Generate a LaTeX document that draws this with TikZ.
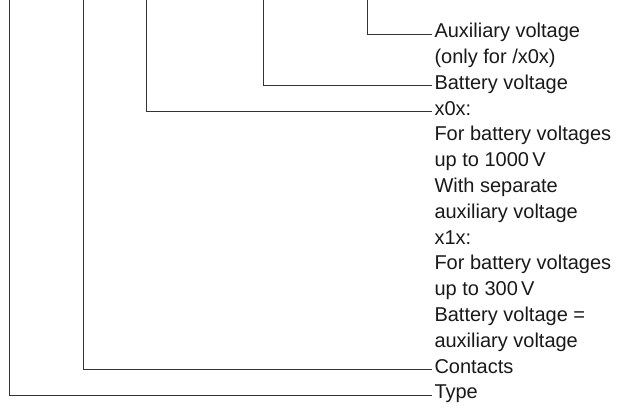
\documentclass[tikz,border=0pt]{standalone}
\usepackage{fontspec}
\setmainfont{Liberation Sans}
\usetikzlibrary{positioning}
\tikzset{
lbl/.style={anchor=west,inner xsep=3pt,inner ysep=0pt,outer sep=0pt,minimum height=25.8pt,
text height=0.92em,text depth=0.2em,text=black!90,font=\fontsize{20}{24}\selectfont},
more/.style={below=0pt of #1.south west,anchor=north west},
lead/.style={draw=black!80,line width=1pt}
}
\begin{document}
\begin{tikzpicture}[x=1pt,y=-1pt]
\useasboundingbox (0,0) rectangle (617,407);
% top ends of the leads
\coordinate (typetop) at (9,-1);
\coordinate (contop) at (83,-1);
\coordinate (vartop) at (146.5,-1);
\coordinate (battop) at (263.5,-1);
\coordinate (auxtop) at (367,-1);
% labels
\node[lbl] (aux) at (431.5,34) {Auxiliary voltage};
\node[lbl,more=aux] (aux2) {(only for /x0x)};
\node[lbl,more=aux2] (bat) {Battery voltage};
\node[lbl,more=bat] (var) {x0x:};
\node[lbl,more=var] (var2) {For battery voltages};
\node[lbl,more=var2] (var3) {up to 1000\,V};
\node[lbl,more=var3] (var4) {With separate};
\node[lbl,more=var4] (var5) {auxiliary voltage};
\node[lbl,more=var5] (var6) {x1x:};
\node[lbl,more=var6] (var7) {For battery voltages};
\node[lbl,more=var7] (var8) {up to 300\,V};
\node[lbl,more=var8] (var9) {Battery voltage =};
\node[lbl,more=var9] (var10) {auxiliary voltage};
\node[lbl,more=var10] (con) {Contacts};
\node[lbl,more=con] (type) {Type};
% leads
\draw[lead] (auxtop) |- (aux.west);
\draw[lead] (battop) |- (bat.west);
\draw[lead] (vartop) |- (var.west);
\draw[lead] (contop) |- (con.west);
\draw[lead] (typetop) |- (type.west);
\end{tikzpicture}
\end{document}
